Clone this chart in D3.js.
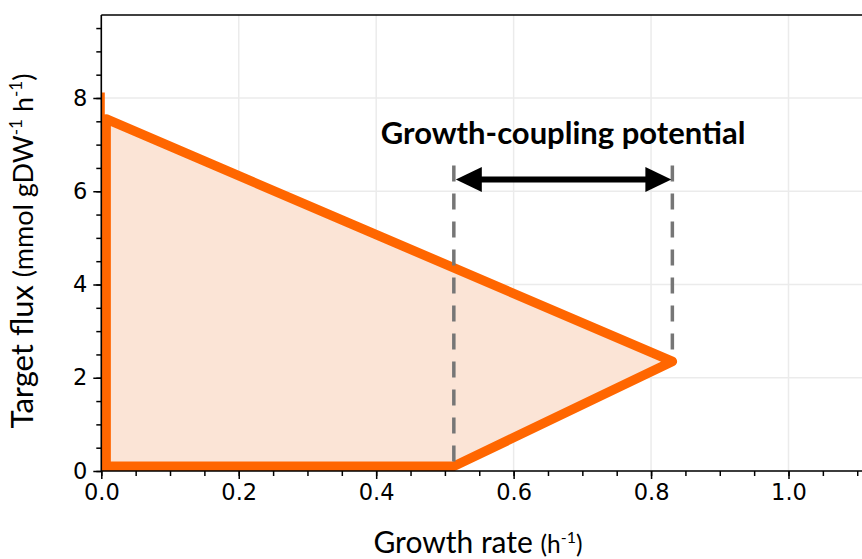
<!DOCTYPE html>
<html>
<head>
<meta charset="utf-8">
<script src="https://cdn.jsdelivr.net/npm/d3@7/dist/d3.min.js"></script>
<style>
  html, body { margin: 0; padding: 0; background: #fff; }
  svg { display: block; }
</style>
</head>
<body>
<svg id="chart" width="862" height="559"></svg>
<script>
// Production envelope: target flux versus growth rate
const envelopeGrowth = [0.007, 0.007, 0.831, 0.513];
const envelopeFlux   = [0.1, 7.55, 2.35, 0.1];

// Upper bound at zero growth
const zeroGrowthGrowth = [0, 0];
const zeroGrowthFlux   = [0, 8.12];

// Growth-coupling window: minimum and maximum growth rate
const couplingGrowth = [0.513, 0.831];
const couplingFluxBottom = [0, 2.35];
const couplingFluxTop = 6.55;
const arrowFlux = 6.25;
const couplingLabel = "Growth-coupling potential";

// Axis ticks
const xMajorTicks = [0, 0.2, 0.4, 0.6, 0.8, 1.0];
const yMajorTicks = [0, 2, 4, 6, 8];
const xDomain = [0, 1.12];
const yDomain = [0, 9.78];

const svg = d3.select("#chart");
const W = 862, H = 559;
const plotLeft = 101.3, plotTop = 15, plotBottom = 471;
const x = d3.scaleLinear().domain(xDomain).range([plotLeft, plotLeft + 687.2 * xDomain[1]]);
const y = d3.scaleLinear().domain(yDomain).range([plotBottom, plotTop]);

const orange = "#ff6600";
const fill = "#fbe4d6";

// Clip region for the plot area
svg.append("defs").append("clipPath").attr("id", "plotClip")
  .append("rect").attr("x", plotLeft).attr("y", plotTop)
  .attr("width", W - plotLeft).attr("height", plotBottom - plotTop);

// Grid
const grid = svg.append("g").attr("stroke", "#ebebeb").attr("stroke-width", 1.5);
xMajorTicks.forEach(t => grid.append("line")
  .attr("x1", x(t)).attr("x2", x(t)).attr("y1", plotTop).attr("y2", plotBottom));
yMajorTicks.forEach(t => grid.append("line")
  .attr("x1", plotLeft).attr("x2", W).attr("y1", y(t)).attr("y2", y(t)));

const plot = svg.append("g").attr("clip-path", "url(#plotClip)");

// Zero-growth bound
const line = d3.line().x(d => x(d[0])).y(d => y(d[1]));
plot.append("path")
  .attr("d", line(d3.zip(zeroGrowthGrowth, zeroGrowthFlux)))
  .attr("fill", "none").attr("stroke", orange).attr("stroke-width", 7);

// Envelope polygon
const pts = d3.zip(envelopeGrowth, envelopeFlux);
plot.append("path")
  .attr("d", line(pts) + "Z")
  .attr("fill", fill)
  .attr("stroke", orange).attr("stroke-width", 9.5)
  .attr("stroke-linejoin", "round");

// Dashed markers at the coupling limits
couplingGrowth.forEach((g, i) => {
  svg.append("line")
    .attr("x1", x(g)).attr("x2", x(g))
    .attr("y1", y(couplingFluxTop)).attr("y2", y(couplingFluxBottom[i]))
    .attr("stroke", "#767676").attr("stroke-width", 3.5)
    .attr("stroke-dasharray", "16,12");
});

// Double-headed arrow
const ax0 = x(couplingGrowth[0]) + 2, ax1 = x(couplingGrowth[1]) - 1, ay = y(arrowFlux);
const headL = 26, headH = 12.5;
svg.append("line")
  .attr("x1", ax0 + headL - 2).attr("x2", ax1 - headL + 2)
  .attr("y1", ay).attr("y2", ay)
  .attr("stroke", "#000").attr("stroke-width", 6);
svg.append("path")
  .attr("d", `M${ax0},${ay} L${ax0 + headL},${ay - headH} L${ax0 + headL},${ay + headH} Z`)
  .attr("fill", "#000");
svg.append("path")
  .attr("d", `M${ax1},${ay} L${ax1 - headL},${ay - headH} L${ax1 - headL},${ay + headH} Z`)
  .attr("fill", "#000");

svg.append("text")
  .attr("x", (x(couplingGrowth[0]) + x(couplingGrowth[1])) / 2)
  .attr("y", 144)
  .attr("text-anchor", "middle")
  .attr("font-family", "Lato, sans-serif")
  .attr("font-weight", "bold")
  .attr("font-size", 31)
  .attr("fill", "#000")
  .text(couplingLabel);

// Axes
const xAxis = d3.axisBottom(x).tickValues(xMajorTicks).tickFormat(d3.format(".1f")).tickSize(8).tickPadding(5);
const xMinor = d3.axisBottom(x).tickValues(d3.range(0, 1.1001, 0.05)).tickFormat("").tickSize(5);
const yAxis = d3.axisLeft(y).tickValues(yMajorTicks).tickFormat(d3.format("d")).tickSize(8).tickPadding(6);
const yMinor = d3.axisLeft(y).tickValues(d3.range(0, 9.51, 0.5)).tickFormat("").tickSize(5);

function styleAxis(g) {
  g.select(".domain").remove();
  g.selectAll("line").attr("stroke", "#000").attr("stroke-width", 1.5);
  g.selectAll("text").attr("font-family", "DejaVu Sans, sans-serif").attr("font-size", 22.5).attr("fill", "#000");
}
svg.append("g").attr("transform", `translate(0,${plotBottom})`).call(xMinor).call(styleAxis);
svg.append("g").attr("transform", `translate(0,${plotBottom})`).call(xAxis).call(styleAxis);
svg.append("g").attr("transform", `translate(${plotLeft},0)`).call(yMinor).call(styleAxis);
svg.append("g").attr("transform", `translate(${plotLeft},0)`).call(yAxis).call(styleAxis);

// Spines
const spines = svg.append("g").attr("stroke", "#000").attr("stroke-width", 1.6);
spines.append("line").attr("x1", plotLeft).attr("x2", W).attr("y1", plotBottom).attr("y2", plotBottom);
spines.append("line").attr("x1", plotLeft).attr("x2", W).attr("y1", plotTop).attr("y2", plotTop);
spines.append("line").attr("x1", plotLeft).attr("x2", plotLeft).attr("y1", plotTop).attr("y2", plotBottom);

// Axis titles
const xt = svg.append("text")
  .attr("x", 478).attr("y", 553)
  .attr("text-anchor", "middle")
  .attr("font-family", "Lato, sans-serif")
  .attr("fill", "#000");
xt.append("tspan").attr("font-size", 30).text("Growth rate ");
xt.append("tspan").attr("font-size", 24.5).text("(h");
xt.append("tspan").attr("font-size", 16).attr("dy", -10).text("-1");
xt.append("tspan").attr("font-size", 24.5).attr("dy", 10).text(")");

const yt = svg.append("text")
  .attr("transform", `translate(33,${251}) rotate(-90)`)
  .attr("text-anchor", "middle")
  .attr("font-family", "Lato, sans-serif")
  .attr("fill", "#000");
yt.append("tspan").attr("font-size", 31).text("Target flux ");
yt.append("tspan").attr("font-size", 27).text("(mmol gDW");
yt.append("tspan").attr("font-size", 17).attr("dy", -11).text("-1");
yt.append("tspan").attr("font-size", 27).attr("dy", 11).text(" h");
yt.append("tspan").attr("font-size", 17).attr("dy", -11).text("-1");
yt.append("tspan").attr("font-size", 27).attr("dy", 11).text(")");
</script>
</body>
</html>
